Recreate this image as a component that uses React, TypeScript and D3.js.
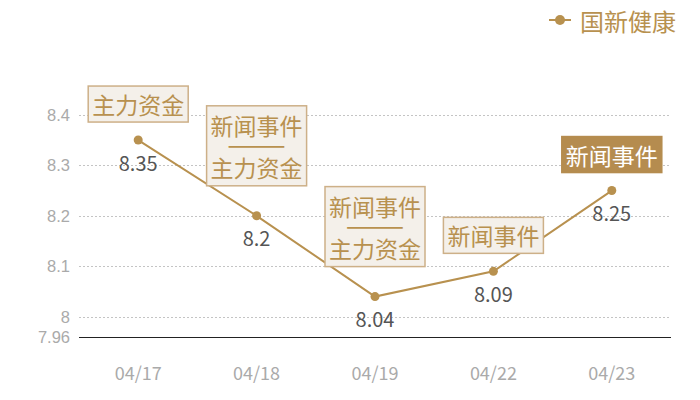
import React from "react";
import * as d3 from "d3";

const categories = ["04/17", "04/18", "04/19", "04/22", "04/23"];
const values = [8.35, 8.2, 8.04, 8.09, 8.25];
const annotations = [
  ["主力资金"],
  ["新闻事件", "——", "主力资金"],
  ["新闻事件", "——", "主力资金"],
  ["新闻事件"],
  ["新闻事件"],
];
const highlighted = [false, false, false, false, true];
const yTicks = [8, 8.1, 8.2, 8.3, 8.4];
const yMin = 7.96;
const seriesName = "国新健康";

const W = 700;
const H = 400;
const GOLD = "#b8914f";
const FONT = "'Noto Sans CJK SC', 'Noto Sans', sans-serif";

export default function App() {
  const x = d3.scaleBand<string>().domain(categories).range([79, 671]);
  const y = d3.scaleLinear().domain([yMin, 8.44]).range([337, 94.6]);
  const cx = (c: string) => (x(c) as number) + x.bandwidth() / 2;
  const line = d3
    .line<number>()
    .x((_, i) => cx(categories[i]))
    .y((d) => y(d));

  return (
    <div style={{ position: "fixed", left: 0, top: 0 }}>
      <svg width={W} height={H} style={{ display: "block", fontFamily: FONT }}>
        <rect width={W} height={H} fill="#fff" />
        {yTicks.map((t) => (
          <line
            key={t}
            x1={79}
            x2={671}
            y1={Math.round(y(t)) + 0.5}
            y2={Math.round(y(t)) + 0.5}
            stroke="#c4c4c4"
            strokeDasharray="2,2"
          />
        ))}
        <line
          x1={79}
          x2={671}
          y1={Math.round(y(yMin)) + 0.5}
          y2={Math.round(y(yMin)) + 0.5}
          stroke="#222"
          strokeWidth={1}
        />
        {[...yTicks, yMin].map((t) => (
          <text
            key={t}
            x={70}
            y={y(t)}
            textAnchor="end"
            dominantBaseline="central"
            fontSize={16.5}
            fontFamily="'Liberation Sans', Arial, sans-serif"
            fill="#aaa"
          >
            {String(t)}
          </text>
        ))}
        {categories.map((c) => (
          <text
            key={c}
            x={cx(c)}
            y={372}
            textAnchor="middle"
            dominantBaseline="central"
            fontSize={18}
            fill="#aaa"
          >
            {c}
          </text>
        ))}
        <path d={line(values) || ""} fill="none" stroke={GOLD} strokeWidth={2} />
        {values.map((v, i) => (
          <g key={i}>
            <circle cx={cx(categories[i])} cy={y(v)} r={4.5} fill={GOLD} />
            <text
              x={cx(categories[i])}
              y={y(v) + 22}
              textAnchor="middle"
              dominantBaseline="central"
              fontSize={20}
              fill="#555"
            >
              {String(v)}
            </text>
          </g>
        ))}
        {annotations.map((lines, i) => {
          const px = cx(categories[i]);
          const py = y(values[i]);
          const n = lines.length;
          const h = 14 + n * 22;
          const gap = n > 1 ? 30 : 18;
          const top = py - gap - h;
          const hi = highlighted[i];
          const first = top + (h - (n - 1) * 21) / 2;
          const col = hi ? "#fff" : GOLD;
          return (
            <g key={i}>
              <rect
                x={px - 50}
                y={top}
                width={100}
                height={h}
                fill={hi ? "#b58c4f" : "#f4f0ea"}
                stroke={hi ? "#b58c4f" : "#cdb088"}
                strokeWidth={1.5}
              />
              {lines.map((t, j) => {
                const isDash = t.startsWith("—");
                return (
                  <text
                    key={j}
                    x={px}
                    y={first + j * 21}
                    textAnchor="middle"
                    dominantBaseline="central"
                    fontSize={isDash ? 5 : 23}
                    textLength={isDash ? 50 : undefined}
                    lengthAdjust={isDash ? "spacingAndGlyphs" : undefined}
                    stroke={isDash ? col : undefined}
                    strokeWidth={isDash ? 1.4 : undefined}
                    fill={col}
                  >
                    {t}
                  </text>
                );
              })}
            </g>
          );
        })}
        <line x1={549} x2={571} y1={20} y2={20} stroke={GOLD} strokeWidth={2} />
        <circle cx={560} cy={20} r={5} fill={GOLD} />
        <text x={580} y={20} dominantBaseline="central" fontSize={24} fill={GOLD}>
          {seriesName}
        </text>
      </svg>
    </div>
  );
}
